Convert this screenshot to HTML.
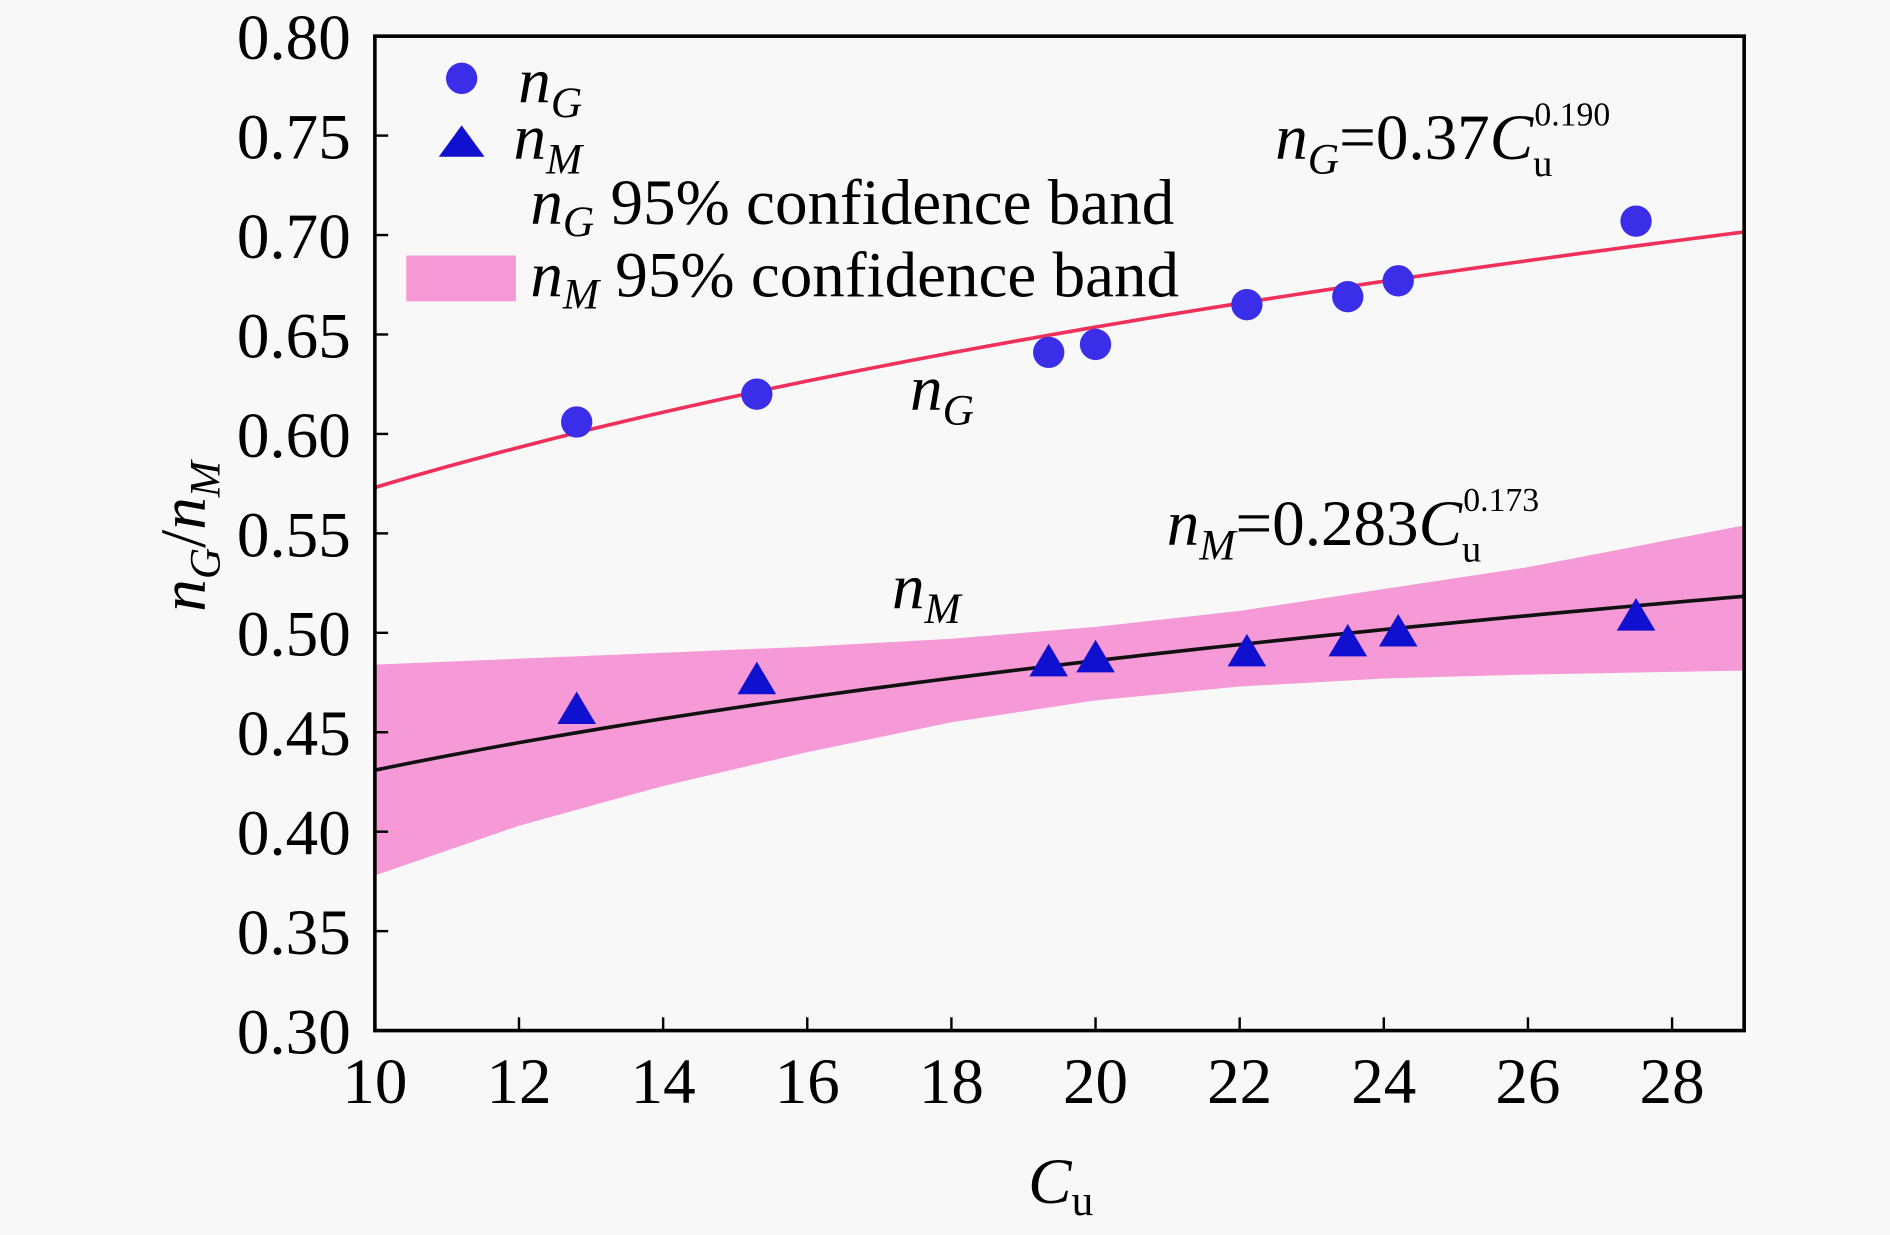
<!DOCTYPE html>
<html><head><meta charset="utf-8"><style>
html,body{margin:0;padding:0;background:#f8f8f8}
svg{display:block;font-family:"Liberation Serif",serif}
</style></head><body>
<svg id="chart" width="1890" height="1235" viewBox="0 0 1568 1024.6" xmlns="http://www.w3.org/2000/svg">
<rect width="1568" height="1024.6" fill="#f8f8f8"/>
<g id="band"></g>
<g id="curves"></g>
<g id="points"></g>
<g id="axes"></g>
<g font-size="54">
  <circle cx="383" cy="65" r="13" fill="#3a2ee8"/>
  <text x="430" y="85" font-style="italic">n<tspan font-size="36" dy="12">G</tspan></text>
  <polygon points="364,130 383,104 402,130" fill="#1010d0"/>
  <text x="426" y="132" font-style="italic">n<tspan font-size="36" dy="12">M</tspan></text>
  <text x="440" y="186"><tspan font-style="italic">n</tspan><tspan font-style="italic" font-size="36" dy="10">G</tspan><tspan dy="-10"> 95% confidence band</tspan></text>
  <rect x="337" y="212" width="91" height="38" fill="#f59ad6"/>
  <text x="440" y="246"><tspan font-style="italic">n</tspan><tspan font-style="italic" font-size="36" dy="10">M</tspan><tspan dy="-10"> 95% confidence band</tspan></text>
</g>
<g font-size="54">
  <text x="1058" y="132"><tspan font-style="italic">n</tspan><tspan font-style="italic" font-size="36" dy="12">G</tspan><tspan dy="-12">=0.37</tspan><tspan font-style="italic">C</tspan><tspan font-size="32" dy="14">u</tspan><tspan font-size="28" dx="-15" dy="-42">0.190</tspan></text>
  <text x="755" y="340" font-style="italic">n<tspan font-size="36" dy="12">G</tspan></text>
  <text x="968" y="452"><tspan font-style="italic">n</tspan><tspan font-style="italic" font-size="36" dy="12">M</tspan><tspan dy="-12">=0.283</tspan><tspan font-style="italic">C</tspan><tspan font-size="32" dy="14">u</tspan><tspan font-size="28" dx="-15" dy="-42">0.173</tspan></text>
  <text x="740" y="505" font-style="italic">n<tspan font-size="36" dy="12">M</tspan></text>
</g>
<text x="880" y="998" font-size="54" font-style="italic" text-anchor="middle">C<tspan font-style="normal" font-size="36" dy="10">u</tspan></text>
<text transform="translate(170,445) rotate(-90)" font-size="54" font-style="italic" text-anchor="middle">n<tspan font-size="36" dy="12">G</tspan><tspan dy="-12" font-style="normal">/</tspan>n<tspan font-size="36" dy="12">M</tspan></text>
<script>
const xTicks=[10,12,14,16,18,20,22,24,26,28];
const yTicks=[0.30,0.35,0.40,0.45,0.50,0.55,0.60,0.65,0.70,0.75,0.80];
const cuValues=[12.8,15.3,19.35,20.0,22.1,23.5,24.2,27.5];
const ngValues=[0.606,0.620,0.641,0.645,0.665,0.669,0.677,0.707];
const nmValues=[0.462,0.477,0.486,0.488,0.491,0.496,0.501,0.509];
const ngFit=[0.37,0.190];
const nmFit=[0.289,0.1735];
const bandX=[10,12,14,16,18,20,22,24,26,29];
const bandUpper=[0.484,0.487,0.490,0.493,0.497,0.503,0.511,0.522,0.533,0.554];
const bandLower=[0.378,0.403,0.423,0.440,0.455,0.466,0.473,0.477,0.479,0.481];
const X0=311,X1=1447,Y0=855,Y1=30,XMIN=10,XMAX=29,YMIN=0.30,YMAX=0.80;
const sx=v=>X0+(v-XMIN)/(XMAX-XMIN)*(X1-X0);
const sy=v=>Y0-(v-YMIN)/(YMAX-YMIN)*(Y0-Y1);
const NS="http://www.w3.org/2000/svg";
function mk(tag,attrs,parent){const e=document.createElementNS(NS,tag);for(const k in attrs)e.setAttribute(k,attrs[k]);parent.appendChild(e);return e;}
const bandG=document.getElementById('band');
let d='M'+bandX.map((x,i)=>sx(x)+','+sy(bandUpper[i])).join(' L');
for(let i=bandX.length-1;i>=0;i--)d+=' L'+sx(bandX[i])+','+sy(bandLower[i]);
const bp=mk('path',{d:d+'Z',fill:'#f59ad6'},bandG);


const cg=document.getElementById('curves');
function curve(p,color,name){let s='';for(let x=XMIN;x<=XMAX+1e-9;x+=0.25){s+=(s?' L':'M')+sx(x)+','+sy(p[0]*Math.pow(x,p[1]));}
const e=mk('path',{d:s,fill:'none',stroke:color,'stroke-width':3},cg);

}
curve(ngFit,'#f0305a','ng-fit-line');
curve(nmFit,'#111','nm-fit-line');
const pg=document.getElementById('points');
cuValues.forEach((c,i)=>{
 const ci=mk('circle',{cx:sx(c),cy:sy(ngValues[i]),r:13,fill:'#3a2ee8'},pg);
 
 
 const x=sx(c),y=sy(nmValues[i]);
 const t=mk('polygon',{points:`${x-16},${y+13} ${x},${y-14} ${x+16},${y+13}`,fill:'#1010d0'},pg);
 
 
});
const ag=document.getElementById('axes');
const fr=mk('rect',{x:X0,y:Y1,width:X1-X0,height:Y0-Y1,fill:'none',stroke:'#000','stroke-width':3},ag);


xTicks.forEach(v=>{
 const l=mk('line',{x1:sx(v),x2:sx(v),y1:Y0,y2:Y0-11,stroke:'#000','stroke-width':2},ag);
 
 
 const t=mk('text',{x:sx(v),y:915,'font-size':54,'text-anchor':'middle'},ag);
 t.textContent=v;
 
 
});
yTicks.forEach(v=>{
 const l=mk('line',{x1:X0,x2:X0+11,y1:sy(v),y2:sy(v),stroke:'#000','stroke-width':2},ag);
 
 
 const t=mk('text',{x:291,y:sy(v)+19,'font-size':54,'text-anchor':'end'},ag);
 t.textContent=v.toFixed(2);
 
 
});
</script>
</svg>
</body></html>
